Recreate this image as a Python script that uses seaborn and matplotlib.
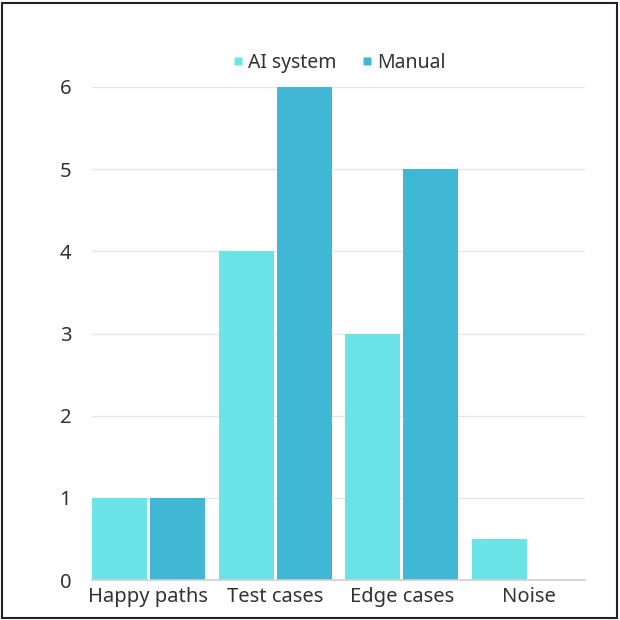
import pandas as pd
import seaborn as sns
import matplotlib.pyplot as plt
from matplotlib.patches import Rectangle
from matplotlib.lines import Line2D

# Chart data
categories = ["Happy paths", "Test cases", "Edge cases", "Noise"]
ai_system = [1, 4, 3, 0.5]
manual = [1, 6, 5, 0]
series_names = ["AI system", "Manual"]
y_ticks = [0, 1, 2, 3, 4, 5, 6]

colors = ["#6BE4E8", "#41B7D6"]

df = pd.DataFrame({
    "category": categories * 2,
    "value": ai_system + manual,
    "series": [series_names[0]] * len(categories) + [series_names[1]] * len(categories),
})

sns.set_theme(style="white")
plt.rcParams["font.family"] = ["Noto Sans", "DejaVu Sans"]

fig = plt.figure(figsize=(6.2, 6.2), dpi=100)
ax = fig.add_axes([92 / 620, 1 - 580 / 620, 493 / 620, 493 / 620])

sns.barplot(
    data=df, x="category", y="value", hue="series", saturation=1,
    palette=colors, width=0.916, gap=0.05, ax=ax, legend=False,
)

ax.set_xlim(-0.446, 3.446)
ax.set_ylim(0, 6)
ax.set_yticks(y_ticks)
ax.set_xlabel("")
ax.set_ylabel("")
ax.grid(axis="y", color="#E6E6E6", linewidth=1)
ax.set_axisbelow(True)
for side in ["top", "right", "left"]:
    ax.spines[side].set_visible(False)
ax.spines["bottom"].set_color("#D0D0D0")
ax.spines["bottom"].set_linewidth(1.2)
ax.tick_params(axis="y", length=0, pad=15, labelsize=14.5, labelcolor="#333333")
ax.tick_params(axis="x", length=0, pad=5, labelsize=14.5, labelcolor="#333333")
for bar in ax.patches:
    bar.set_edgecolor("none")

handles = [Line2D([], [], marker="s", linestyle="none", markersize=5.5,
                  markerfacecolor=c, markeredgecolor="none") for c in colors]
fig.legend(handles, series_names, loc="center", bbox_to_anchor=(338 / 620, 1 - 63 / 620),
           ncol=2, frameon=False, fontsize=14, handletextpad=0.1, columnspacing=1.2,
           handlelength=0.8, labelcolor="#333333")

fig.add_artist(Rectangle((2 / 620, 2 / 620), 615 / 620, 615 / 620, transform=fig.transFigure,
                         fill=False, edgecolor="#222222", linewidth=1.5))

fig.savefig("out.png", dpi=100)
